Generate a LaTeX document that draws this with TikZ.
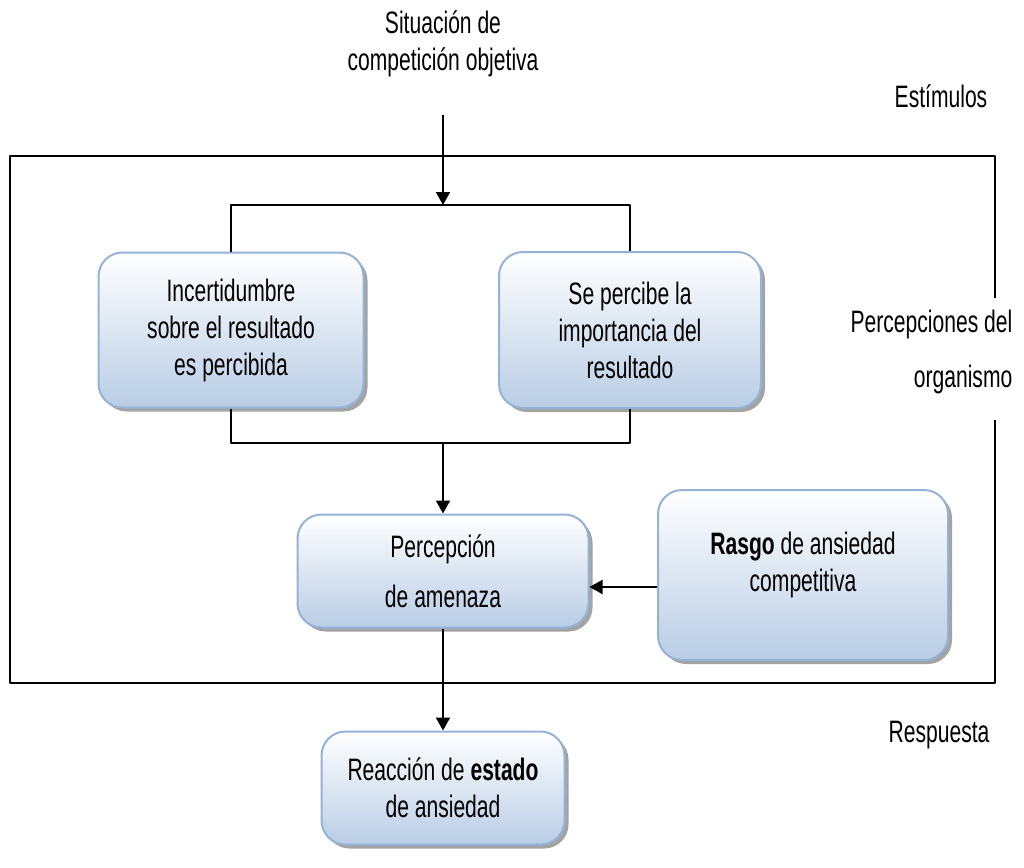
\documentclass[tikz,border=0pt]{standalone}
\usepackage{fontspec}
\setmainfont{Liberation Sans}[FakeStretch=0.68]
\usetikzlibrary{arrows.meta,shadows}
\definecolor{borde}{HTML}{95B3D7}
\definecolor{fondo}{HTML}{B9CDE5}
\tikzset{
	caja/.style={draw=borde, line width=1pt, rounded corners=12pt, top color=white, bottom color=fondo, align=center,
		drop shadow={shadow xshift=2pt, shadow yshift=-2pt, fill=black!45, opacity=.8}},
	texto/.style={align=center},
}
\begin{document}
\begin{tikzpicture}[x=.5pt, y=-.5pt, line width=1pt, line join=round, >={Triangle[width=7pt,length=6.5pt]},
	font=\fontsize{15.5}{18.5}\selectfont]
		\useasboundingbox (0,0) rectangle (1024,868);
		% textos exteriores
		\node[texto] (situacion) at (443,44) {Situación de\\competición objetiva};
		\node[texto] (estimulos) at (941,96) {Estímulos};
		\node[texto, anchor=east, align=right, font=\fontsize{15.5}{27.5}\selectfont] (percep) at (1020,352) {Percepciones del\\organismo};
		\node[texto] (respuesta) at (939,735) {Respuesta};
		% marco del organismo
		\draw (995,298) -- (995,156) -- (10,156) -- (10,683) -- (995,683) -- (995,420);
		% cajas
		\node[caja, minimum width=132.5pt, minimum height=77.5pt] (incert) at (231,330) {Incertidumbre\\sobre el resultado\\es percibida};
		\node[caja, minimum width=131pt, minimum height=78pt] (import) at (630,330) {Se percibe la\\importancia del\\resultado};
		\node[caja, minimum width=145.5pt, minimum height=56.5pt, font=\fontsize{15.5}{25}\selectfont] (amenaza) at (443,571) {Percepción\\de amenaza};
		\node[caja, minimum width=145pt, minimum height=85pt, text depth=13pt] (rasgo) at (803,575) {\textbf{Rasgo} de ansiedad\\competitiva};
		\node[caja, minimum width=121.5pt, minimum height=56.5pt] (reaccion) at (443,788) {Reacción de \textbf{estado}\\de ansiedad};
		% conectores
		\coordinate (entrada) at (443,115);
		\coordinate (cruce) at (443,205);
		\coordinate (union) at (443,443);
		\draw[->] (entrada) -- (cruce);
		\draw (incert.north) |- (cruce) -| (import.north);
		\draw (incert.south) |- (union) -| (import.south);
		\draw[->] (union) -- (amenaza.north);
		\draw[->] (rasgo.west |- 0,587) -- (amenaza.east |- 0,587);
		\draw[->] (amenaza.south) -- (reaccion.north);
	\end{tikzpicture}
\end{document}
